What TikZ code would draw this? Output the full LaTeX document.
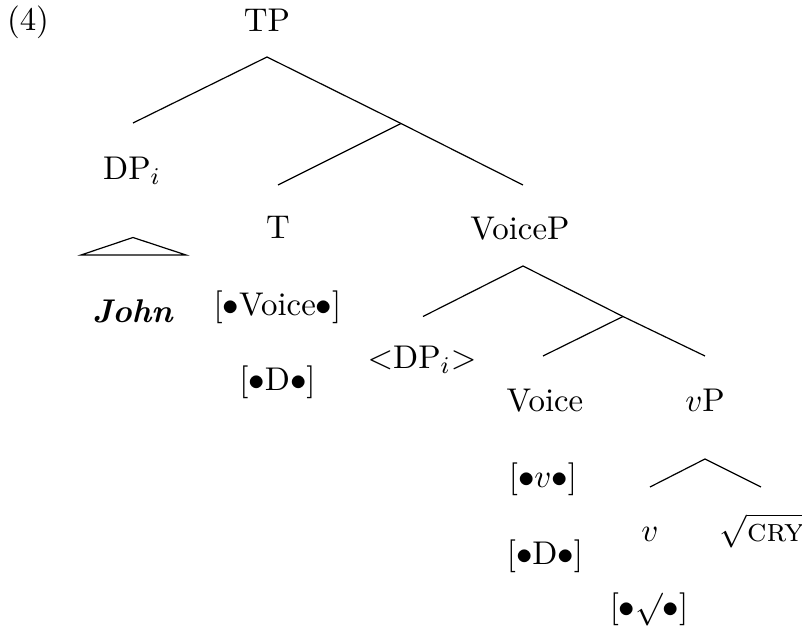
\documentclass[tikz,border=0pt]{standalone}
\usepackage{amssymb}
\begin{document}
\begin{tikzpicture}[x=0.3333pt,y=-0.3333pt,
  lbl/.style={inner sep=0pt,anchor=base,font=\fontsize{10.95}{13.6}\selectfont},
  branch/.style={line width=0.4pt}]
\useasboundingbox (0,0) rectangle (802,629);
% labels
\node[lbl] (ex) at (28,31) {(4)};
\node[lbl] (tp) at (267,31.5) {TP};
\node[lbl] (dp) at (132,180) {DP$_i$};
\node[lbl] (john) at (133,323) {\textbf{\textit{John}}};
\node[lbl] (t) at (278,239) {T};
\node[lbl] (tf1) at (277.5,315.5) {[$\bullet$Voice$\bullet$]};
\node[lbl] (tf2) at (277.5,390.5) {[$\bullet$D$\bullet$]};
\node[lbl] (voicep) at (520,240) {VoiceP};
\node[lbl] (dptr) at (422,369) {$<$DP$_i$$>$};
\node[lbl] (voice) at (545,412) {Voice};
\node[lbl] (vf1) at (543,487.5) {[$\bullet v\bullet$]};
\node[lbl] (vf2) at (545,564.5) {[$\bullet$D$\bullet$]};
\node[lbl] (vp) at (705,412) {$v$P};
\node[lbl] (v) at (650,541.5) {$v$};
\node[lbl] (root) at (762,541.5) {$\sqrt{\textsc{cry}}$};
\node[lbl] (vrf) at (649,617.5) {[$\bullet\surd\bullet$]};
% branch points
\coordinate (tpA) at (267,57);
\coordinate (dpT) at (133,123);
\coordinate (tbar) at (401,123.5);
\coordinate (tT) at (278,185);
\coordinate (vpT) at (523,185);
\coordinate (voicepA) at (523,266);
\coordinate (dptrT) at (423,316.5);
\coordinate (vbar) at (623,316.5);
\coordinate (voiceT) at (543,356);
\coordinate (vpR) at (705,356);
\coordinate (vpA) at (705,459);
\coordinate (vT) at (650,487);
\coordinate (rootT) at (761,487);
\coordinate (triA) at (133,237.5);
\coordinate (triL) at (81,255);
\coordinate (triR) at (186,255);
% branches
\draw[branch] (dpT) -- (tpA) -- (tbar) -- (vpT);
\draw[branch] (tT) -- (tbar);
\draw[branch] (dptrT) -- (voicepA) -- (vbar) -- (vpR);
\draw[branch] (voiceT) -- (vbar);
\draw[branch] (vT) -- (vpA) -- (rootT);
\draw[branch] (triL) -- (triA) -- (triR) -- cycle;
\end{tikzpicture}
\end{document}
